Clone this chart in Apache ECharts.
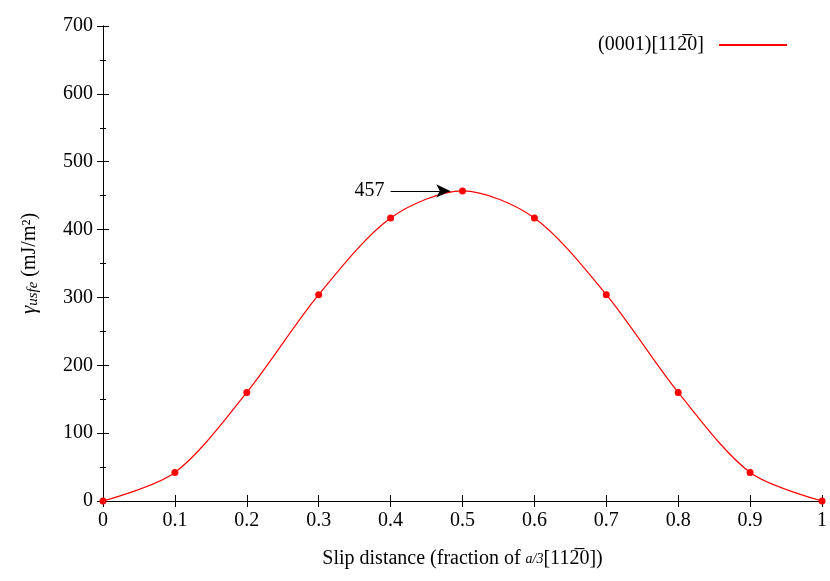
<!DOCTYPE html>
<html><head><meta charset="utf-8">
<script src="https://cdn.jsdelivr.net/npm/echarts@6/dist/echarts.min.js"></script>
<style>html,body{margin:0;padding:0;background:#fff}#c{width:830px;height:581px}</style>
</head><body><div id="c"></div>
<script>
const xs=[0,0.1,0.2,0.3,0.4,0.5,0.6,0.7,0.8,0.9,1];
const ys=[0,42,160,304,417,457,417,304,160,42,0];
const peakLabel='457';
const F='Liberation Serif';
const lbl='(0001)[112\u03050]';
const chart=echarts.init(document.getElementById('c'));
const tick={inside:true,length:6,lineStyle:{color:'#000'}};
chart.setOption({
 animation:false,
 grid:{left:103,right:8,top:26,bottom:80},
 legend:{right:38,top:30,align:'right',itemWidth:68,itemHeight:2,icon:'rect',
   textStyle:{fontFamily:F,fontSize:20,color:'#000',padding:[0,10,0,0]},data:[lbl]},
 xAxis:[{type:'value',min:0,max:1,interval:0.1,
   axisLine:{lineStyle:{color:'#000'}},axisTick:tick,splitLine:{show:false},
   axisLabel:{fontFamily:F,fontSize:20,color:'#000',margin:10,formatter:v=>String(+v.toFixed(1))},
   name:'{n|Slip distance (fraction of }{f|a/3}{n|[112\u03050])}',nameLocation:'middle',nameGap:48,
   nameTextStyle:{rich:{n:{fontFamily:F,fontSize:20,color:'#000'},f:{fontFamily:F,fontSize:14,fontStyle:'italic',color:'#000'}}}},
  {type:'value',position:'top',min:0,max:1,interval:0.1,axisLine:{show:true,lineStyle:{color:'#000'}},axisTick:tick,axisLabel:{show:false},splitLine:{show:false}}],
 yAxis:[{type:'value',min:0,max:700,interval:100,
   axisLine:{show:true,lineStyle:{color:'#000'}},axisTick:tick,
   minorTick:{show:true,splitNumber:2,length:3,lineStyle:{color:'#000'}},
   splitLine:{show:false},
   axisLabel:{fontFamily:F,fontSize:20,color:'#000',margin:10},
   name:'{g|γ}{s|usfe}{n| (mJ/m²)}',nameLocation:'middle',nameGap:62,
   nameTextStyle:{rich:{g:{fontFamily:F,fontSize:21,fontStyle:'italic',color:'#000'},s:{fontFamily:F,fontSize:15,fontStyle:'italic',color:'#000',verticalAlign:'bottom',padding:[8,0,0,0]},n:{fontFamily:F,fontSize:20,color:'#000'}}}},
  {type:'value',position:'right',min:0,max:700,interval:100,axisLine:{show:true,lineStyle:{color:'#000'}},axisTick:tick,
   minorTick:{show:true,splitNumber:2,length:3,lineStyle:{color:'#000'}},axisLabel:{show:false},splitLine:{show:false}}],
 series:[{name:lbl,type:'line',smooth:0.3,data:xs.map((x,i)=>[x,ys[i]]),
   color:'#ff0000',lineStyle:{width:1.2,color:'#ff0000'},symbol:'circle',symbolSize:7,
   itemStyle:{color:'#ff0000'},
   markLine:{silent:true,symbol:['none','arrow'],symbolSize:[10,14],
     lineStyle:{color:'#000',type:'solid',width:1},
     label:{show:true,position:'start',formatter:peakLabel,fontFamily:F,fontSize:20,color:'#000',distance:6},
     data:[[{coord:[0.4,ys[5]]},{coord:[0.483,ys[5]]}]]}}]
});
</script></body></html>
